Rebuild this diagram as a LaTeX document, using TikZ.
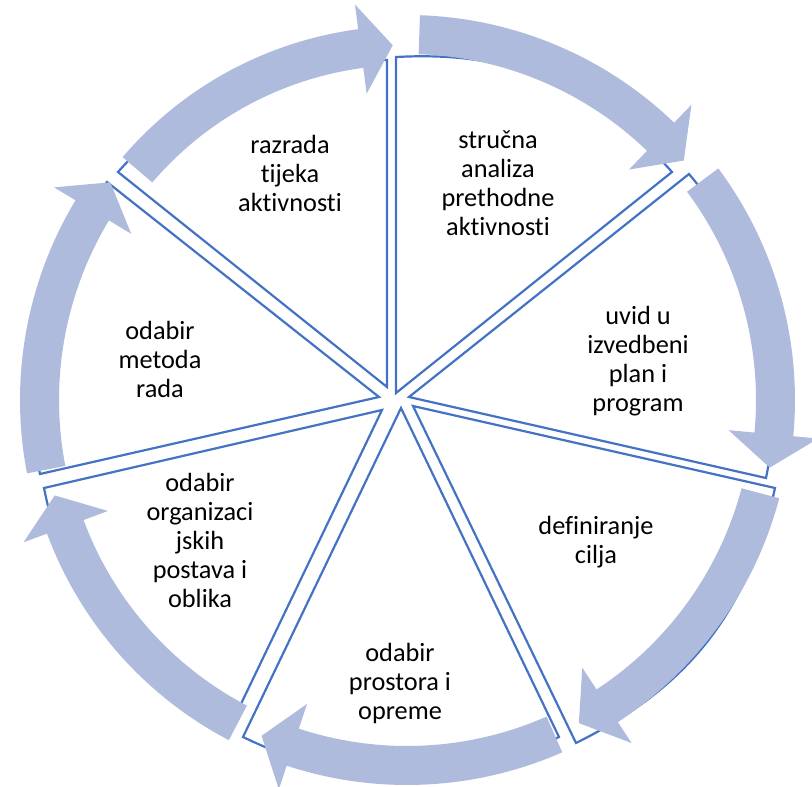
\documentclass[tikz,border=0pt]{standalone}
\usepackage{fontspec}
\setmainfont{Carlito}[Ligatures={NoCommon}]
\usetikzlibrary{calc}
\definecolor{arrowblue}{RGB}{175,187,221}
\definecolor{edgeblue}{RGB}{68,114,196}
\begin{document}
\begin{tikzpicture}[x=1pt,y=1pt,
  wedge/.style={draw=edgeblue, line width=2.2pt, fill=white, line join=miter},
  txt/.style={align=center, font=\fontsize{26.3}{29}\selectfont, text=black, inner sep=0pt},
  arrowshape/.style={fill=arrowblue}]
\useasboundingbox (0,0) rectangle (812,-787);
\coordinate (O) at (407,-400);
% wedges
\coordinate (a1) at (387,-387); \coordinate (p1) at (118,-172); \coordinate (q1) at (387,-60);
\coordinate (a2) at (396,-393); \coordinate (p2) at (396,-57);  \coordinate (q2) at (672,-172);
\coordinate (a3) at (409,-397); \coordinate (p3) at (689,-174); \coordinate (q3) at (766,-478);
\coordinate (a4) at (413,-406); \coordinate (p4) at (775,-488); \coordinate (q4) at (576,-743);
\coordinate (a5) at (401,-408); \coordinate (p5) at (559,-737); \coordinate (q5) at (243,-737);
\coordinate (a6) at (382,-410); \coordinate (p6) at (228,-731); \coordinate (q6) at (44,-488);
\coordinate (a7) at (379,-397); \coordinate (p7) at (40,-474);  \coordinate (q7) at (107,-182);
\foreach \i in {1,...,7} {
  \draw[wedge] (a\i) -- (p\i) to[bend left=25.7] (q\i) -- cycle;
}
% arrows
\foreach \k/\dr in {0/-11,1/0,2/3,3/0,4/0,5/-1,6/2} {
  \pgfmathsetmacro\ta{139.5-51.4286*\k}
  \pgfmathsetmacro\pa{92.3-51.4286*\k}
  \pgfmathsetmacro\ba{\pa+5.2}
  \pgfmathsetmacro\ri{346+\dr}
  \pgfmathsetmacro\ro{385+\dr}
  \pgfmathsetmacro\wi{320+\dr}
  \pgfmathsetmacro\wo{410+\dr}
  \pgfmathsetmacro\rt{366+\dr}
  \fill[arrowshape] ($(O)+(\ta:\ro)$) arc[start angle=\ta, end angle=\ba, radius=\ro]
    -- ($(O)+(\ba:\wo)$) -- ($(O)+(\pa:\rt)$) -- ($(O)+(\ba:\wi)$) -- ($(O)+(\ba:\ri)$)
    arc[start angle=\ba, end angle=\ta, radius=\ri] -- cycle;
}
% texts
\node[txt] (t1) at (290,-173) {razrada\\tijeka\\aktivnosti};
\node[txt] (t2) at (498,-183) {stručna\\analiza\\prethodne\\aktivnosti};
\node[txt] (t3) at (638,-361) {uvid u\\izvedbeni\\plan i\\program};
\node[txt] (t4) at (596,-542) {definiranje\\cilja};
\node[txt] (t5) at (400,-683) {odabir\\prostora i\\opreme};
\node[txt] (t6) at (200,-540) {odabir\\organizaci\\jskih\\postava i\\oblika};
\node[txt] (t7) at (160,-359) {odabir\\metoda\\rada};
\end{tikzpicture}
\end{document}
